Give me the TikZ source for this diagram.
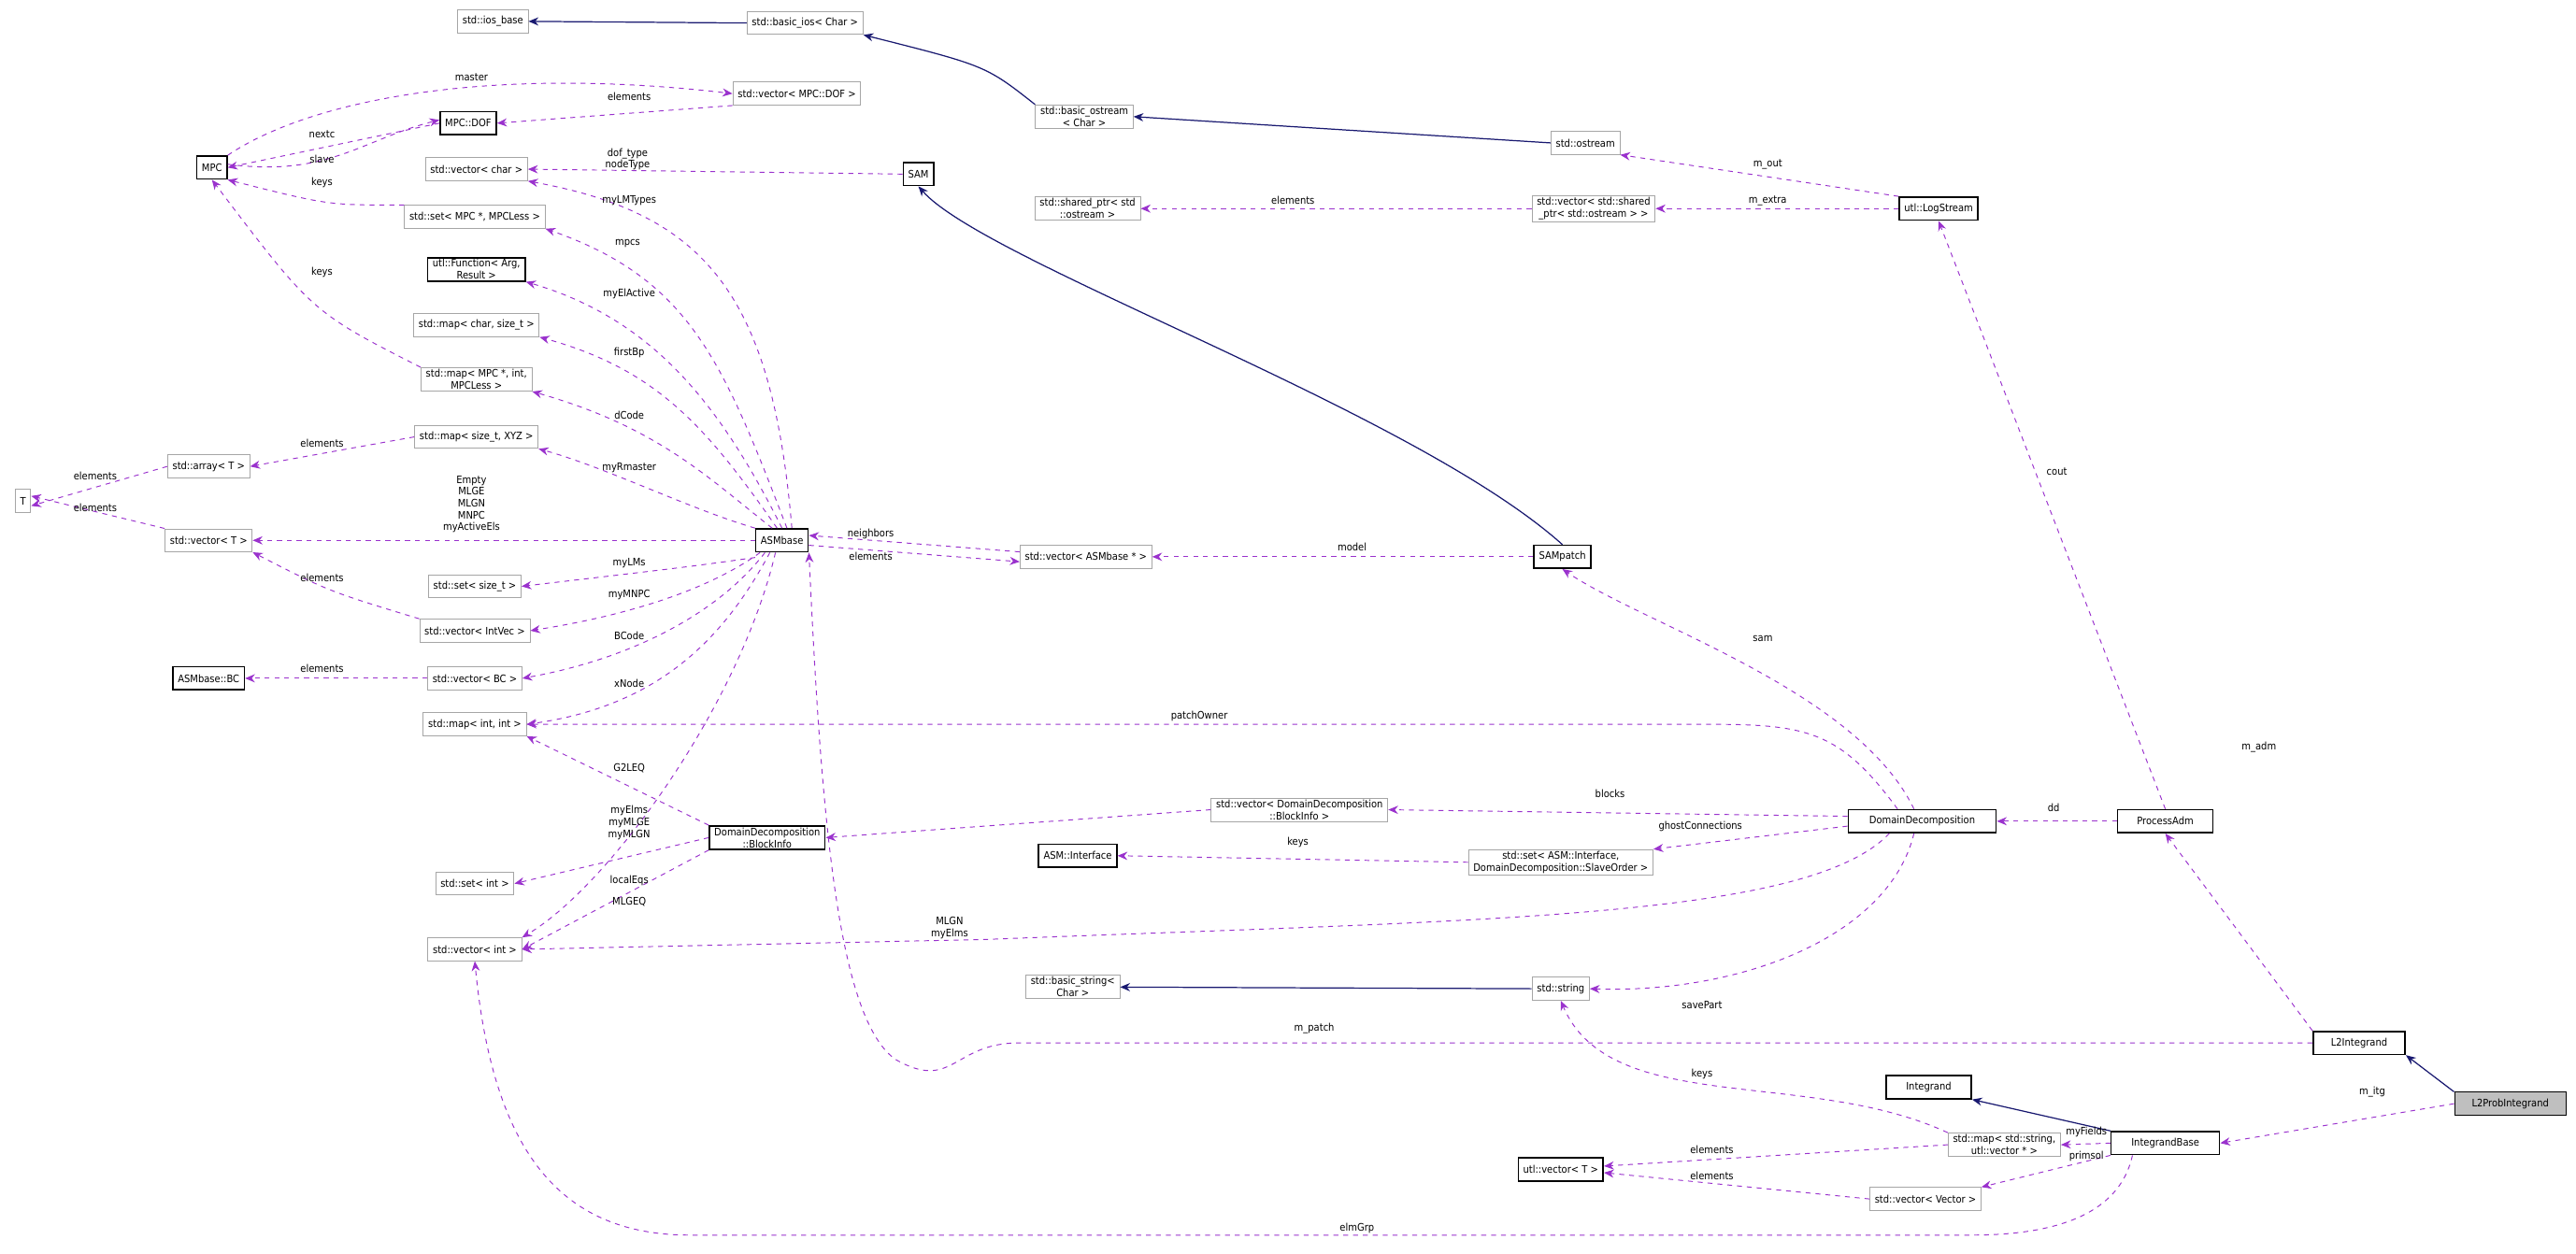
\documentclass[tikz,border=0pt]{standalone}
\usepackage{fontspec}
\setmainfont{DejaVu Sans Condensed}
\usetikzlibrary{arrows.meta}
\definecolor{dep}{HTML}{9A32CD}
\definecolor{inh}{HTML}{191970}
\tikzset{
 base/.style={draw,inner xsep=3pt,inner ysep=1pt,minimum height=14pt,font=\fontsize{6.3}{7.4}\selectfont,align=center,line width=0.5pt},
 undoc/.style={base,draw=gray!70},
 doc/.style={base,draw=black,line width=0.9pt},
 deparr/.style={dep,dashed,line width=0.55pt,-{Stealth[length=6pt,width=5pt]}},
 inharr/.style={inh,line width=0.7pt,-{Stealth[length=6pt,width=5pt]}},
 lab/.style={font=\fontsize{6.3}{7.2}\selectfont,align=center,inner sep=0pt}
}
\begin{document}
\begin{tikzpicture}[x=1pt,y=-1pt]
\useasboundingbox (0,0) rectangle (1568,763);
% nodes
\node[undoc] (iosb) at (300,13) {std::ios\_base};
\node[undoc] (bios) at (490,14) {std::basic\_ios< Char >};
\node[undoc] (bost) at (660,71) {std::basic\_ostream\\< Char >};
\node[undoc] (ost) at (965,87) {std::ostream};
\node[doc] (log) at (1180,127) {utl::LogStream};
\node[undoc] (vsp) at (970,127) {std::vector< std::shared\\\_ptr< std::ostream > >};
\node[undoc] (sp) at (662,127) {std::shared\_ptr< std\\::ostream >};
\node[doc] (sam) at (559,106) {SAM};
\node[undoc] (vdof) at (485,57) {std::vector< MPC::DOF >};
\node[doc] (dof) at (285,75) {MPC::DOF};
\node[doc] (mpc) at (129,102) {MPC};
\node[undoc] (vchar) at (290,103) {std::vector< char >};
\node[undoc] (smpc) at (289,132) {std::set< MPC *, MPCLess >};
\node[doc] (func) at (290,164) {utl::Function< Arg,\\Result >};
\node[undoc] (mcs) at (290,198) {std::map< char, size\_t >};
\node[undoc] (mmpc) at (290,231) {std::map< MPC *, int,\\MPCLess >};
\node[undoc] (mxyz) at (290,266) {std::map< size\_t, XYZ >};
\node[undoc] (arr) at (127,284) {std::array< T >};
\node[undoc] (T) at (14,305) {T};
\node[undoc] (vT) at (127,329) {std::vector< T >};
\node[doc] (asm) at (476,329) {ASMbase};
\node[undoc] (ssz) at (289,357) {std::set< size\_t >};
\node[undoc] (viv) at (289,384) {std::vector< IntVec >};
\node[undoc] (vbc) at (289,413) {std::vector< BC >};
\node[doc] (bc) at (127,413) {ASMbase::BC};
\node[undoc] (mii) at (289,441) {std::map< int, int >};
\node[doc] (bi) at (467,510) {DomainDecomposition\\::BlockInfo};
\node[undoc] (sint) at (289,538) {std::set< int >};
\node[undoc] (vint) at (289,578) {std::vector< int >};
\node[undoc] (vasm) at (661,339) {std::vector< ASMbase * >};
\node[doc] (samp) at (951,339) {SAMpatch};
\node[undoc] (vbi) at (791,493) {std::vector< DomainDecomposition\\::BlockInfo >};
\node[doc] (intf) at (656,521) {ASM::Interface};
\node[undoc] (sintf) at (950,525) {std::set< ASM::Interface,\\DomainDecomposition::SlaveOrder >};
\node[doc,minimum width=90pt] (dd) at (1170,500) {DomainDecomposition};
\node[doc,minimum width=58pt] (padm) at (1318,500) {ProcessAdm};
\node[undoc] (bstr) at (653,601) {std::basic\_string<\\Char >};
\node[undoc] (str) at (950,602) {std::string};
\node[doc,minimum width=56pt] (l2) at (1436,635) {L2Integrand};
\node[doc,minimum width=52pt] (integ) at (1174,662) {Integrand};
\node[base,fill=gray!50,draw=black,minimum width=68pt] (l2p) at (1528,672) {L2ProbIntegrand};
\node[doc,minimum width=66pt] (ib) at (1318,696) {IntegrandBase};
\node[undoc] (mfld) at (1220,697) {std::map< std::string,\\utl::vector * >};
\node[doc] (uvec) at (950,712) {utl::vector< T >};
\node[undoc] (vvec) at (1172,730) {std::vector< Vector >};
% inheritance
\draw[inharr] (bios.west) -- (iosb.east);
\draw[inharr] (bost.north west) .. controls (600,40) .. (bios.south east);
\draw[inharr] (ost.west) -- (bost.east);
\draw[inharr] (samp.north) .. controls (860,250) and (600,160) .. (sam.south);
\draw[inharr] (str.west) -- (bstr.east);
\draw[inharr] (l2p.north west) -- (l2.south east);
\draw[inharr] (ib.north west) -- (integ.south east);
% MPC area
\draw[deparr] (mpc.north east) .. controls (190,60) and (300,40) .. (vdof.west);
\draw[deparr] (vdof.south west) -- (dof.east);
\draw[deparr] (dof.west) -- (mpc.east);
\draw[deparr] ([yshift=2pt]mpc.east) .. controls (200,108) and (220,85) .. ([yshift=2pt]dof.west);
\draw[deparr] (smpc.north west) .. controls (200,125) .. (mpc.south east);
\draw[deparr] (mmpc.north west) .. controls (190,190) .. (mpc.south);
\draw[deparr] (sam.west) -- (vchar.east);
% ASMbase fan
\draw[deparr] ([xshift=6pt]asm.north) .. controls (470,180) and (430,130) .. (vchar.south east);
\draw[deparr] ([xshift=3pt]asm.north) .. controls (440,220) and (420,170) .. (smpc.south east);
\draw[deparr] ([xshift=0pt]asm.north) .. controls (440,250) and (400,195) .. (func.south east);
\draw[deparr] ([xshift=-3pt]asm.north) .. controls (430,260) and (400,225) .. (mcs.south east);
\draw[deparr] ([xshift=-6pt]asm.north) .. controls (430,290) and (400,260) .. (mmpc.south east);
\draw[deparr] (asm.north west) .. controls (420,310) and (370,285) .. (mxyz.south east);
\draw[deparr] (asm.west) -- (vT.east);
\draw[deparr] ([yshift=-3pt]asm.south west) .. controls (420,345) .. (ssz.east);
\draw[deparr] ([xshift=3pt]asm.south west) .. controls (430,360) and (380,375) .. (viv.east);
\draw[deparr] ([xshift=6pt]asm.south west) .. controls (440,370) and (390,400) .. (vbc.east);
\draw[deparr] ([xshift=9pt]asm.south west) .. controls (440,390) and (400,430) .. (mii.east);
\draw[deparr] ([xshift=-4pt]asm.south) .. controls (450,430) and (370,540) .. (vint.north east);
\draw[deparr] ([yshift=-3pt]asm.east) -- ([yshift=-3pt]vasm.west);
\draw[deparr] ([yshift=3pt]vasm.west) -- ([yshift=3pt]asm.east);
\draw[deparr] (samp.west) -- (vasm.east);
% left column
\draw[deparr] (mxyz.west) -- (arr.east);
\draw[deparr] (arr.west) -- ([yshift=-3pt]T.east);
\draw[deparr] (vT.north west) -- ([yshift=3pt]T.east);
\draw[deparr] (viv.north west) .. controls (200,360) .. (vT.south east);
\draw[deparr] (vbc.west) -- (bc.east);
% stream
\draw[deparr] (log.north west) -- (ost.south east);
\draw[deparr] (log.west) -- (vsp.east);
\draw[deparr] (vsp.west) -- (sp.east);
\draw[deparr] (padm.north) -- (log.south);
% DD
\draw[deparr] ([xshift=-5pt]dd.north) .. controls (1130,420) and (1000,380) .. (samp.south);
\draw[deparr] ([xshift=-15pt]dd.north) .. controls (1120,445) and (1100,441) .. (1040,441) -- (mii.east);
\draw[deparr] ([yshift=3pt]dd.west) -- (vbi.east);
\draw[deparr] ([yshift=-3pt]dd.west) -- (sintf.north east);
\draw[deparr] (vbi.west) -- (bi.east);
\draw[deparr] (sintf.west) -- (intf.east);
\draw[deparr] ([xshift=-20pt]dd.south) .. controls (1100,560) and (900,560) .. (600,572) -- (vint.east);
\draw[deparr] ([xshift=-5pt]dd.south) .. controls (1150,570) and (1060,605) .. (str.east);
\draw[deparr] (padm.west) -- (dd.east);
\draw[deparr] (bi.north west) -- (mii.south east);
\draw[deparr] (bi.west) -- (sint.east);
\draw[deparr] (bi.south west) -- (vint.east);
% integrands
\draw[deparr] (l2.north west) -- (padm.south);
\draw[deparr] (l2.west) -- (620,635) .. controls (580,635) and (580,665) .. (545,645) .. controls (510,620) and (500,500) .. (asm.south east);
\draw[deparr] (l2p.west) -- (ib.east);
\draw[deparr] (ib.west) -- (mfld.east);
\draw[deparr] (ib.south west) -- (vvec.north east);
\draw[deparr] (mfld.west) -- ([yshift=2pt]uvec.east);
\draw[deparr] (vvec.west) -- ([yshift=-2pt]uvec.east);
\draw[deparr] (mfld.north west) .. controls (1100,650) and (980,680) .. (str.south);
\draw[deparr] ([xshift=-20pt]ib.south) .. controls (1290,740) and (1250,752) .. (1200,752) -- (420,752) .. controls (340,752) and (300,700) .. (vint.south);
% labels
\node[lab] at (287,47) {master};
\node[lab] at (383,59) {elements};
\node[lab] at (196,82) {nextc};
\node[lab] at (196,97) {slave};
\node[lab] at (196,111) {keys};
\node[lab] at (196,166) {keys};
\node[lab] at (382,97) {dof\_type\\nodeType};
\node[lab] at (383,122) {myLMTypes};
\node[lab] at (382,148) {mpcs};
\node[lab] at (383,179) {myElActive};
\node[lab] at (383,215) {firstBp};
\node[lab] at (383,253) {dCode};
\node[lab] at (196,270) {elements};
\node[lab] at (383,285) {myRmaster};
\node[lab] at (58,290) {elements};
\node[lab] at (58,309) {elements};
\node[lab] at (287,307) {Empty\\MLGE\\MLGN\\MNPC\\myActiveEls};
\node[lab] at (383,343) {myLMs};
\node[lab] at (196,352) {elements};
\node[lab] at (383,362) {myMNPC};
\node[lab] at (383,387) {BCode};
\node[lab] at (196,407) {elements};
\node[lab] at (383,416) {xNode};
\node[lab] at (383,468) {G2LEQ};
\node[lab] at (383,501) {myElms\\myMLGE\\myMLGN};
\node[lab] at (383,536) {localEqs};
\node[lab] at (383,549) {MLGEQ};
\node[lab] at (530,325) {neighbors};
\node[lab] at (530,339) {elements};
\node[lab] at (823,333) {model};
\node[lab] at (787,122) {elements};
\node[lab] at (1076,100) {m\_out};
\node[lab] at (1076,122) {m\_extra};
\node[lab] at (1252,287) {cout};
\node[lab] at (1073,389) {sam};
\node[lab] at (730,436) {patchOwner};
\node[lab] at (980,483) {blocks};
\node[lab] at (1035,503) {ghostConnections};
\node[lab] at (790,513) {keys};
\node[lab] at (578,565) {MLGN\\myElms};
\node[lab] at (1036,612) {savePart};
\node[lab] at (800,626) {m\_patch};
\node[lab] at (1375,455) {m\_adm};
\node[lab] at (1250,492) {dd};
\node[lab] at (1036,654) {keys};
\node[lab] at (1270,689) {myFields};
\node[lab] at (1270,704) {primsol};
\node[lab] at (1042,700) {elements};
\node[lab] at (1042,716) {elements};
\node[lab] at (1444,665) {m\_itg};
\node[lab] at (826,748) {elmGrp};
\end{tikzpicture}
\end{document}
